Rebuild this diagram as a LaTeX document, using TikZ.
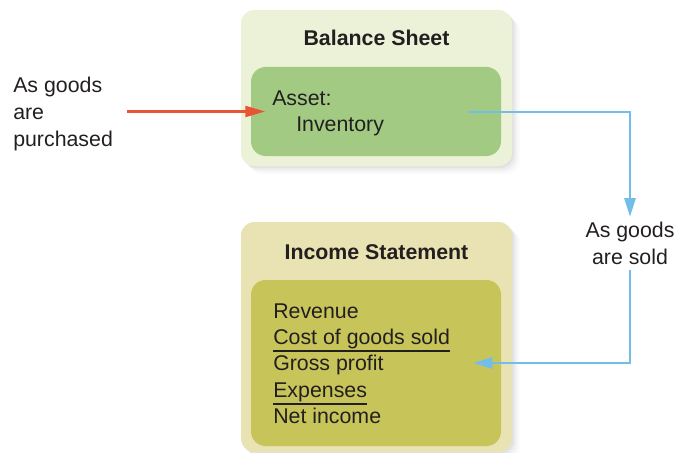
\documentclass[tikz,border=0pt]{standalone}
\usepackage{fontspec}
\setmainfont{Liberation Sans}
\usepackage{tikz}
\usetikzlibrary{arrows.meta, shadows, positioning}
\definecolor{SheetLight}{RGB}{236,242,216}
\definecolor{SheetGreen}{RGB}{163,202,131}
\definecolor{IncomeLight}{RGB}{233,226,178}
\definecolor{IncomeOlive}{RGB}{199,196,90}
\definecolor{InkGrey}{RGB}{35,31,32}
\definecolor{BuyRed}{RGB}{233,84,52}
\definecolor{SellBlue}{RGB}{115,190,232}

\begin{document}
\begin{tikzpicture}[x=0.75pt, y=-0.75pt,
    every node/.style={font=\fontsize{16}{20}\selectfont, text=InkGrey},
    outerbox/.style={rounded corners=10pt, minimum width=203.25pt,
        drop shadow={shadow xshift=1.5pt, shadow yshift=-1.5pt, opacity=.10},
        drop shadow={shadow xshift=3pt, shadow yshift=-3pt, opacity=.07},
        drop shadow={shadow xshift=4.5pt, shadow yshift=-4.5pt, opacity=.05},
        drop shadow={shadow xshift=6pt, shadow yshift=-6pt, opacity=.03}},
    innerbox/.style={rounded corners=11pt, minimum width=187.5pt},
    title/.style={font=\fontsize{16}{20}\selectfont\bfseries, anchor=base},
    item/.style={anchor=base west, inner sep=0pt},
    rule/.style={line width=1.2pt, InkGrey},
    buy/.style={line width=2.25pt, BuyRed, -{Triangle[length=15pt, width=8pt]}},
    sell/.style={line width=1.5pt, SellBlue, -{Triangle[length=14pt, width=8.5pt]}}]
    \useasboundingbox (0,0) rectangle (678,453);

    \node[outerbox, fill=SheetLight, minimum height=117pt] (BS) at (376.5,88) {};
    \node[innerbox, fill=SheetGreen, minimum height=66.75pt] (Inv) at (376,111.5) {};
    \node[title] (BST) at (376.5,46) {Balance Sheet};
    \node[item] (A1) at (272,105) {Asset:};
    \node[item] (A2) at (296,132) {Inventory};

    \node[outerbox, fill=IncomeLight, minimum height=172.5pt] (IS) at (376.5,337) {};
    \node[innerbox, fill=IncomeOlive, minimum height=124.5pt] (Acc) at (376,363) {};
    \node[title] (IST) at (376.5,259) {Income Statement};
    \node[item] (L1) at (273,318)   {Revenue};
    \node[item] (L2) at (273,344)   {Cost of goods sold};
    \node[item] (L3) at (273,370.5) {Gross profit};
    \node[item] (L4) at (273,397)   {Expenses};
    \node[item] (L5) at (273,423)   {Net income};
    \draw[rule] ([yshift=-1.8pt]L2.south west) -- ([yshift=-1.8pt]L2.south east);
    \draw[rule] ([yshift=-1.8pt]L4.south west) -- ([yshift=-1.8pt]L4.south east);

    \node[align=left, anchor=north west, inner sep=0pt] (Buy) at (13,77) {As goods\\are\\purchased};
    \node[align=center, anchor=north, inner sep=4pt] (Sold) at (630,216.7) {As goods\\are sold};

    \coordinate (BuyFrom) at (127,111.5);
    \draw[buy] (BuyFrom) -- ([xshift=11pt]Inv.west);
    \draw[sell] ([xshift=-24.75pt]Inv.east) -| (Sold.north);
    \draw[sell] (Sold.south) |- ([xshift=-20.75pt]Acc.east);
\end{tikzpicture}
\end{document}
